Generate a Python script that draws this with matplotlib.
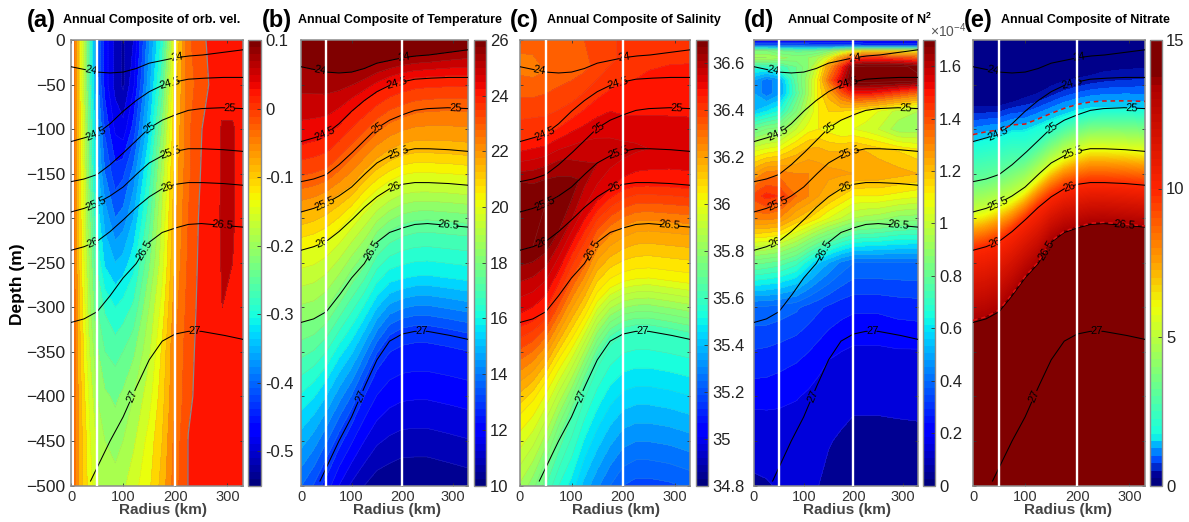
#!/usr/bin/env python3
import numpy as np
import matplotlib
matplotlib.use('Agg')
import matplotlib.pyplot as plt
from matplotlib.cm import ScalarMappable
from matplotlib.colors import LinearSegmentedColormap, Normalize

plt.rcParams['font.family'] = ['Liberation Sans', 'DejaVu Sans']
plt.rcParams['mathtext.default'] = 'regular'

W, H = 1189, 522

# radius nodes shared by the isopycnal tables (km)
radius = [0, 25, 50, 75, 100, 125, 150, 175, 200, 225, 250, 290, 330]

# isopycnal depths (m)
sig_labels = ['24', '24.5', '25', '25.5', '26', '26.5', '27']
sig24 = [-30, -33, -36, -37, -36, -32, -26, -23, -20, -18, -17, -14, -11]
sig245 = [-114, -110, -105, -94, -80, -68, -58, -51, -47, -44, -43, -42, -42]
sig25 = [-159, -156, -151, -140, -127, -113, -99, -90, -84, -79, -77, -76, -77]
sig255 = [-193, -189, -183, -175, -165, -151, -138, -130, -125, -122, -122, -123, -125]
sig26 = [-236, -232, -226, -215, -202, -188, -176, -167, -162, -160, -160, -161, -163]
sig265 = [-317, -313, -305, -287, -267, -251, -227, -216, -211, -207, -206, -208, -210]
sig2675 = [-420, -405, -385, -360, -340, -315, -290, -275, -268, -265, -264, -267, -270]
sig27 = [-535, -510, -480, -450, -423, -390, -359, -338, -330, -327, -327, -331, -336]
surface = [0] * 13
bottom = [-560, -540, -500, -500, -500, -500, -500, -500, -500, -500, -500, -500, -500]
navy_edge = [-75, -75, -74, -70, -65, -60, -52, -46, -43, -40, -36, -33, -32]

# where the inline labels sit on each isopycnal (km)
label_r = [[38, 203], [48, 190], [152, 305], [48, 192], [42, 184], [141, 291], [118, 238]]

# (a) orbital velocity, regular grid
vel_r = [6, 15, 25, 37, 50, 65, 85, 100, 120, 150, 175, 200, 225, 260, 290, 310, 330]
vel_z = [0, -50, -100, -150, -200, -250, -300, -350, -400, -450, -500]
vel = [
    [-.04, -.11, -.18, -.28, -.40, -.46, -.51, -.53, -.50, -.38, -.29, -.13, -.03, .001, .01, .01, .01],
    [-.04, -.11, -.18, -.28, -.39, -.46, -.51, -.53, -.48, -.36, -.26, -.11, -.035, -.005, .03, .03, .03],
    [-.04, -.11, -.17, -.26, -.36, -.43, -.48, -.49, -.44, -.33, -.22, -.10, -.03, .01, .055, .055, .03],
    [-.04, -.10, -.16, -.25, -.34, -.40, -.44, -.43, -.39, -.29, -.19, -.09, -.03, .015, .055, .055, .03],
    [-.04, -.10, -.16, -.23, -.31, -.36, -.40, -.39, -.35, -.26, -.17, -.08, -.025, .02, .055, .055, .03],
    [-.04, -.10, -.15, -.21, -.28, -.33, -.35, -.34, -.31, -.23, -.16, -.07, -.02, .02, .053, .05, .03],
    [-.04, -.09, -.14, -.20, -.25, -.28, -.30, -.29, -.27, -.20, -.14, -.06, -.015, .02, .05, .03, .03],
    [-.04, -.09, -.13, -.18, -.22, -.25, -.26, -.25, -.23, -.18, -.12, -.05, -.01, .02, .03, .03, .03],
    [-.04, -.08, -.12, -.16, -.20, -.22, -.23, -.22, -.20, -.16, -.11, -.05, -.005, .015, .03, .03, .03],
    [-.04, -.08, -.11, -.15, -.18, -.20, -.21, -.20, -.18, -.14, -.10, -.04, .001, .015, .03, .03, .03],
    [-.04, -.08, -.11, -.14, -.17, -.19, -.19, -.18, -.16, -.13, -.09, -.035, .001, .015, .03, .03, .03],
]

# (b) temperature on the isopycnal mesh
temp = [
    [25.9] * 13,
    [25.5] * 13,
    [24.1, 24.1, 24.1, 24.05, 24.0, 24.0, 24.0, 23.95, 23.9, 23.9, 23.9, 23.9, 23.9],
    [22.8, 22.8, 22.8, 22.75, 22.7, 22.7, 22.65, 22.6, 22.6, 22.6, 22.6, 22.6, 22.6],
    [21.5, 21.5, 21.45, 21.4, 21.4, 21.3, 21.3, 21.25, 21.2, 21.2, 21.2, 21.2, 21.2],
    [20.0, 20.0, 19.95, 19.9, 19.8, 19.7, 19.65, 19.6, 19.5, 19.5, 19.5, 19.5, 19.5],
    [18.0, 18.0, 17.9, 17.8, 17.7, 17.6, 17.5, 17.4, 17.3, 17.3, 17.3, 17.3, 17.3],
    [15.4, 15.4, 15.4, 15.4, 15.4, 15.4, 15.4, 15.4, 15.5, 15.5, 15.5, 15.5, 15.5],
    [12.7] * 13,
    [11.5, 11.8, 12.3, 11.5, 10.9, 10.5, 10.2, 10.1, 10.0, 10.0, 10.0, 10.1, 10.2],
]

# (c) salinity on the isopycnal mesh
salt = [
    [36.32, 36.32, 36.33, 36.34, 36.35, 36.35, 36.37, 36.39, 36.41, 36.42, 36.43, 36.44, 36.44],
    [36.28, 36.28, 36.30, 36.32, 36.33, 36.34, 36.36, 36.39, 36.41, 36.42, 36.43, 36.44, 36.44],
    [36.45, 36.45, 36.44, 36.43, 36.42, 36.42, 36.43, 36.44, 36.45, 36.45, 36.46, 36.46, 36.46],
    [36.65, 36.64, 36.64, 36.62, 36.58, 36.55, 36.53, 36.52, 36.50, 36.49, 36.49, 36.49, 36.49],
    [36.70, 36.70, 36.70, 36.70, 36.68, 36.63, 36.60, 36.58, 36.57, 36.56, 36.55, 36.54, 36.54],
    [36.70, 36.70, 36.69, 36.65, 36.60, 36.55, 36.52, 36.50, 36.48, 36.47, 36.47, 36.47, 36.47],
    [36.47, 36.46, 36.44, 36.40, 36.35, 36.31, 36.28, 36.26, 36.24, 36.23, 36.23, 36.23, 36.23],
    [36.05, 36.05, 36.04, 36.04, 36.03, 36.03, 36.02, 36.02, 36.02, 36.02, 36.02, 36.02, 36.02],
    [35.75, 35.74, 35.72, 35.68, 35.65, 35.63, 35.62, 35.61, 35.60, 35.60, 35.60, 35.60, 35.60],
    [35.75, 35.72, 35.65, 35.55, 35.48, 35.38, 35.31, 35.25, 35.20, 35.18, 35.18, 35.19, 35.21],
]

# (d) N2 (x1e-4), regular grid
n2_r = [0, 25, 50, 85, 110, 130, 150, 175, 200, 225, 250, 290, 330]
n2_z = [0, -6, -12, -20, -30, -45, -60, -80, -100, -125, -150, -175, -200, -250, -300, -350, -400, -450, -500]
n2 = [
    [.18] * 13,
    [.36, .36, .36, .36, .34, .33, .32, .32, .32, .30, .30, .30, .30],
    [.85, .85, .80, .78, .78, .80, .85, .95, 1.05, 1.10, 1.10, 1.10, 1.05],
    [.95, .95, .92, .88, .90, .95, 1.05, 1.25, 1.42, 1.45, 1.45, 1.42, 1.38],
    [.68, .68, .70, .80, .90, 1.05, 1.25, 1.45, 1.70, 1.72, 1.72, 1.72, 1.68],
    [.50, .42, .48, .78, .95, 1.12, 1.35, 1.55, 1.74, 1.74, 1.74, 1.74, 1.72],
    [.50, .42, .48, .75, .95, 1.12, 1.22, 1.38, 1.50, 1.50, 1.48, 1.42, 1.35],
    [.55, .60, .65, .85, 1.00, 1.10, 1.15, 1.15, 1.12, 1.08, 1.05, .98, .95],
    [.80, .85, .87, 1.00, 1.08, 1.10, 1.08, 1.05, 1.05, 1.03, 1.00, .92, .92],
    [1.05, 1.08, 1.10, 1.18, 1.22, 1.22, 1.20, 1.20, 1.22, 1.20, 1.18, 1.15, 1.12],
    [1.25, 1.32, 1.33, 1.30, 1.30, 1.28, 1.27, 1.26, 1.25, 1.24, 1.24, 1.22, 1.20],
    [1.42, 1.47, 1.45, 1.35, 1.30, 1.25, 1.20, 1.15, 1.10, 1.10, 1.10, 1.08, 1.06],
    [1.32, 1.32, 1.30, 1.20, 1.15, 1.10, 1.05, 1.00, .95, .93, .92, .88, .87],
    [.82, .80, .78, .72, .62, .55, .50, .44, .40, .40, .40, .40, .40],
    [.39, .39, .38, .36, .33, .31, .29, .27, .26, .26, .26, .27, .275],
    [.295, .29, .28, .265, .25, .23, .21, .20, .19, .19, .19, .195, .195],
    [.22, .22, .215, .205, .19, .175, .155, .13, .115, .115, .115, .12, .125],
    [.15, .155, .16, .155, .145, .125, .105, .09, .08, .08, .08, .08, .08],
    [.08, .09, .11, .125, .115, .10, .08, .065, .05, .05, .05, .05, .05],
]

# (e) nitrate on the isopycnal mesh, one row more than b and c
nitrate = [
    [0] * 13,
    [.05] * 13,
    [.25] * 13,
    [1.5, 1.5, 1.4, 1.2, .7, .45, .3, .28, .28, .3, .35, .4, .42],
    [3.2, 3.2, 3.2, 3.0, 2.5, 2.2, 1.9, 1.75, 1.7, 1.6, 1.55, 1.5, 1.5],
    [5.2, 5.2, 5.2, 5.1, 5.1, 5.1, 5.2, 5.4, 5.6, 5.8, 5.8, 5.8, 5.8],
    [10, 10, 10, 10, 10, 10, 10, 10, 9.9, 9.9, 9.9, 9.9, 9.9],
    [13.6] * 13,
    [15] * 13,
    [15] * 13,
    [15] * 13,
]
nit_nodes = [0, .25, .75, 1.25, 1.6, 5, 6, 7.5, 10, 13.5, 14, 15]
nit_jet = [0., .02, .2, .3, .375, .58, .64, .74, .87, .96, 1., 1.]

# panel text and colour bar ticks
letters = ['(a)', '(b)', '(c)', '(d)', '(e)']
titles = ['Annual Composite of orb. vel.', 'Annual Composite of Temperature',
          'Annual Composite of Salinity', r'Annual Composite of N$^{2}$',
          'Annual Composite of Nitrate']
vel_ticks = [-.5, -.4, -.3, -.2, -.1, 0, .1]
vel_ticklabels = ['-0.5', '-0.4', '-0.3', '-0.2', '-0.1', '0', '0.1']
temp_ticks = [10, 12, 14, 16, 18, 20, 22, 24, 26]
salt_ticks = [34.8, 35, 35.2, 35.4, 35.6, 35.8, 36, 36.2, 36.4, 36.6]
salt_ticklabels = ['34.8', '35', '35.2', '35.4', '35.6', '35.8', '36', '36.2', '36.4', '36.6']
n2_ticks = [0, .2, .4, .6, .8, 1, 1.2, 1.4, 1.6]
n2_ticklabels = ['0', '0.2', '0.4', '0.6', '0.8', '1', '1.2', '1.4', '1.6']
nit_ticks = [0, 5, 10, 15]
depth_ticks = [0, -50, -100, -150, -200, -250, -300, -350, -400, -450, -500]
radius_ticks = [0, 100, 200, 300]

# pixel boxes: axes left/right, colour bar left/right, letter x, title x, xlabel x
ax_box = [(71, 243), (301, 468), (520, 690), (754, 918), (973, 1145)]
cb_box = [(248, 261), (474, 486), (696, 708), (923, 935), (1149.5, 1162)]
letter_x = [27, 262, 510, 744, 964]
title_x = [63, 298, 547, 787, 1001]
xlabel_x = [163, 397, 616, 847, 1068]
TOP, BOT = 40, 485.5


def px_axes(x0, x1):
    return fig.add_axes([x0 / W, 1 - BOT / H, (x1 - x0) / W, (BOT - TOP) / H])


def style_axes(ax, i):
    ax.set_xlim(0, 330)
    ax.set_ylim(-500, 0)
    ax.set_xticks(radius_ticks)
    ax.set_yticks(depth_ticks)
    ax.tick_params(direction='in', length=2.5, width=0.6, top=True, right=True, color='#333333')
    ax.tick_params(axis='y', labelsize=12.5, pad=4, labelcolor='#222222')
    ax.tick_params(axis='x', labelsize=10.5, pad=3, labelcolor='#333333')
    if i > 0:
        ax.set_yticklabels([])
    for sp in ax.spines.values():
        sp.set_color('#8c8c8c')
        sp.set_linewidth(1.1)


def draw_isopycnals(ax):
    r_fine = np.arange(0, 332.5, 2.5)
    rows = [sig24, sig245, sig25, sig255, sig26, sig265, sig27]
    for row, name, spots in zip(rows, sig_labels, label_r):
        z_fine = np.interp(r_fine, radius, row)
        if name == '27':
            z_fine[r_fine < 37] = np.nan
        for r0 in spots:
            half = 3 + 3 * len(name)
            z0 = np.interp(r0, radius, row)
            slope = (np.interp(r0 + 4, radius, row) - np.interp(r0 - 4, radius, row)) / 8
            z_fine[np.abs(r_fine - r0) < half * np.cos(np.arctan(slope * 1.7))] = np.nan
            ax.text(r0, z0, name, ha='center', va='center', fontsize=8,
                    rotation=np.degrees(np.arctan(slope)), rotation_mode='anchor',
                    transform_rotates_text=True, zorder=4)
        ax.plot(r_fine, z_fine, color='k', lw=0.75, zorder=3)


def add_colorbar(i, sm, ticks, ticklabels):
    cax = px_axes(*cb_box[i])
    cb = fig.colorbar(sm, cax=cax)
    cb.set_ticks(ticks)
    cb.set_ticklabels(ticklabels)
    cb.ax.tick_params(direction='in', length=3, width=0.6, labelsize=12, pad=3,
                      color='#333333', labelcolor='#222222')
    cb.outline.set_edgecolor('#8c8c8c')
    cb.outline.set_linewidth(1.0)
    return cb


fig = plt.figure(figsize=(W / 100, H / 100), dpi=100)

mesh_r = np.array([radius] * 10)
mesh_z = np.array([surface, sig24, sig245, sig25, sig255, sig26, sig265, sig2675, sig27, bottom])
mesh_r_e = np.array([radius] * 11)
mesh_z_e = np.array([surface, sig24, navy_edge, sig245, sig25, sig255, sig26, sig265, sig2675, sig27, bottom])
jet = plt.get_cmap('jet', 64)

# colormap of the nitrate panel is stretched by hand in the original
nit_cmap = LinearSegmentedColormap.from_list(
    'nit', [(v / 15, plt.get_cmap('jet')(f)) for v, f in zip(nit_nodes, nit_jet)], N=512)

# in (a) the band just above zero is wide and plain red
vel_levels = np.r_[np.arange(-.55, -.001, .025), 0, .05, .075, .1001]

panels = [
    (vel_r, vel_z, vel, vel_levels, (-.55, .1), vel_ticks, vel_ticklabels),
    (mesh_r, mesh_z, temp, np.arange(10, 26.01, .5), (10, 26), temp_ticks, [str(t) for t in temp_ticks]),
    (mesh_r, mesh_z, salt, np.arange(34.8, 36.751, .05), (34.8, 36.7), salt_ticks, salt_ticklabels),
    (n2_r, n2_z, n2, np.r_[0, .1, np.arange(.2, 1.751, .05)], (0, 1.7), n2_ticks, n2_ticklabels),
]

for i, (x, z, v, levels, lim, ticks, ticklabels) in enumerate(panels):
    ax = px_axes(*ax_box[i])
    norm = Normalize(*lim)
    ax.contourf(x, z, np.array(v, dtype=float), levels=levels, cmap=jet, norm=norm)
    ax.contour(x, z, np.array(v, dtype=float), levels=levels, colors='#909090', linewidths=0.25, alpha=0.4)
    if i == 0:
        ax.contour(x, z, np.array(v, dtype=float), levels=[0], colors='#8a8a8a', linewidths=0.9)
    draw_isopycnals(ax)
    ax.axvline(50, color='w', lw=1.7, zorder=5)
    ax.axvline(200, color='w', lw=1.7, zorder=5)
    style_axes(ax, i)
    add_colorbar(i, ScalarMappable(norm=norm, cmap=jet), ticks, ticklabels)

# nitrate panel
ax = px_axes(*ax_box[4])
nit = np.array(nitrate, dtype=float)
nit_levels = np.r_[0, .25, .5, .75, 1, 1.25, np.arange(1.5, 13.45, .1), 13.5, 15.01]
nit_norm = Normalize(0, 15)
ax.contourf(mesh_r_e, mesh_z_e, nit, levels=nit_levels, cmap=nit_cmap, norm=nit_norm)
ax.contour(mesh_r_e, mesh_z_e, nit, levels=[1.25, 13.5], colors='#e01010', linewidths=1.1,
           linestyles=[(0, (3, 2.5))], zorder=3.5)
draw_isopycnals(ax)
ax.axvline(50, color='w', lw=1.7, zorder=5)
ax.axvline(200, color='w', lw=1.7, zorder=5)
style_axes(ax, 4)
add_colorbar(4, ScalarMappable(norm=nit_norm, cmap=nit_cmap.resampled(60)), nit_ticks,
             [str(t) for t in nit_ticks])

# text placed in figure pixels
for i in range(5):
    fig.text(letter_x[i] / W, 1 - 21 / H, letters[i], fontsize=17, fontweight='bold',
             ha='left', va='center')
    fig.text(title_x[i] / W, 1 - 20 / H, titles[i], fontsize=9, fontweight='bold',
             ha='left', va='center')
    fig.text(xlabel_x[i] / W, 1 - 510 / H, 'Radius (km)', fontsize=11, fontweight='bold',
             color='#444444', ha='center', va='center')
fig.text(18 / W, 1 - 284 / H, 'Depth (m)', fontsize=12.5, fontweight='bold', rotation=90,
         ha='center', va='center')
fig.text(930 / W, 1 - 31 / H, r'$\times$10$^{-4}$', fontsize=10, color='#555555',
         ha='left', va='center')

fig.savefig('out.png', dpi=100)
plt.close(fig)
